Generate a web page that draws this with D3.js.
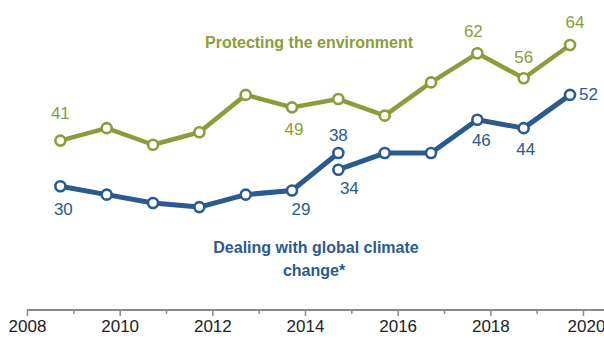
<!DOCTYPE html>
<html><head><meta charset="utf-8">
<script src="https://cdn.jsdelivr.net/npm/d3@7"></script>
<style>
html,body{margin:0;padding:0;background:#fff;}
text{font-family:"Liberation Sans",Arial,sans-serif;}
</style></head>
<body><svg id="c" width="604" height="338"></svg>
<script>
// survey dates (decimal years) and values
const surveyYears = [2008.72, 2009.72, 2010.72, 2011.72, 2012.72, 2013.72, 2014.72, 2015.72, 2016.72, 2017.72, 2018.72, 2019.72];
const environment = [41, 44, 40, 43, 52, 49, 51, 47, 55, 62, 56, 64];
// climate change: question wording changed in 2015, so two segments
const climateYearsA = [2008.72, 2009.72, 2010.72, 2011.72, 2012.72, 2013.72, 2014.72];
const climateA = [30, 28, 26, 25, 28, 29, 38];
const climateYearsB = [2014.72, 2015.72, 2016.72, 2017.72, 2018.72, 2019.72];
const climateB = [34, 38, 38, 46, 44, 52];
const tickYears = [2008, 2010, 2012, 2014, 2016, 2018, 2020];
const seriesNames = ["Protecting the environment", "Dealing with global climate", "change*"];

// labeled points: [year, value, series, anchor, dx, dy]
const envLabels = [[2008.72, 41, "middle", 0, -22], [2013.72, 49, "middle", 2, 28], [2017.72, 62, "middle", -4, -16], [2018.72, 56, "middle", 0, -15], [2019.72, 64, "middle", 5, -17]];
const climLabels = [[2008.72, 30, "middle", 3, 29], [2013.72, 29, "middle", 9, 25], [2014.72, 38, "middle", 0, -12], [2014.72, 34, "middle", 11, 24], [2017.72, 46, "middle", 4, 26], [2018.72, 44, "middle", 2, 27], [2019.72, 52, "start", 9, 5]];

const green = "#8c9c3a", blue = "#2b5a8e";
const svg = d3.select("#c");
const x = d3.scaleLinear().domain([2008, 2020]).range([27, 583]);
const y = d3.scaleLinear().domain([0, 64]).range([311, 45]);

// axis
const ax = svg.append("g").attr("transform", "translate(0,310)");
ax.call(d3.axisBottom(x).tickValues(d3.range(2008, 2021)).tickSize(6).tickFormat(d => tickYears.includes(d) ? d : ""));
ax.select(".domain").attr("stroke", "#8a8a8a").attr("stroke-width", 2).attr("d", "M" + x(2008) + ",0H604");
ax.selectAll(".tick line").attr("stroke", "#8a8a8a").attr("stroke-width", 1.5).attr("y2", d => tickYears.includes(d) ? 6 : 4);
ax.selectAll(".tick text").attr("fill", "#222").attr("font-size", 17).attr("y", 10).attr("dy", "0.71em")
  .attr("font-family", "'Liberation Sans',Arial,sans-serif");
ax.selectAll(".tick").filter(d => d === 2020).select("text").attr("dx", 3);

const line = d3.line().x(d => x(d[0])).y(d => y(d[1]));
function drawSeries(xs, vs, color, width) {
  const pts = xs.map((t, i) => [t, vs[i]]);
  svg.append("path").datum(pts).attr("d", line).attr("fill", "none").attr("stroke", color)
    .attr("stroke-width", width).attr("stroke-linejoin", "round");
  svg.append("g").selectAll("circle").data(pts).join("circle")
    .attr("cx", d => x(d[0])).attr("cy", d => y(d[1])).attr("r", 5)
    .attr("fill", "#fff").attr("stroke", color).attr("stroke-width", 2.6);
}
drawSeries(surveyYears, environment, green, 4.5);
drawSeries(climateYearsA, climateA, blue, 5);
drawSeries(climateYearsB, climateB, blue, 5);

function drawLabels(arr, color) {
  svg.append("g").selectAll("text").data(arr).join("text")
    .attr("x", d => x(d[0]) + d[3]).attr("y", d => y(d[1]) + d[4])
    .attr("text-anchor", d => d[2]).attr("fill", color).attr("font-size", 17)
    .text(d => d[1]);
}
drawLabels(envLabels, green);
drawLabels(climLabels, blue);

svg.append("text").attr("x", 309).attr("y", 48).attr("text-anchor", "middle").attr("fill", green)
  .attr("font-size", 16).attr("font-weight", "bold").text(seriesNames[0]);
svg.append("text").attr("x", 316).attr("y", 253).attr("text-anchor", "middle").attr("fill", blue)
  .attr("font-size", 16).attr("font-weight", "bold").text(seriesNames[1]);
svg.append("text").attr("x", 314).attr("y", 276).attr("text-anchor", "middle").attr("fill", blue)
  .attr("font-size", 16).attr("font-weight", "bold").text(seriesNames[2]);
</script></body></html>
